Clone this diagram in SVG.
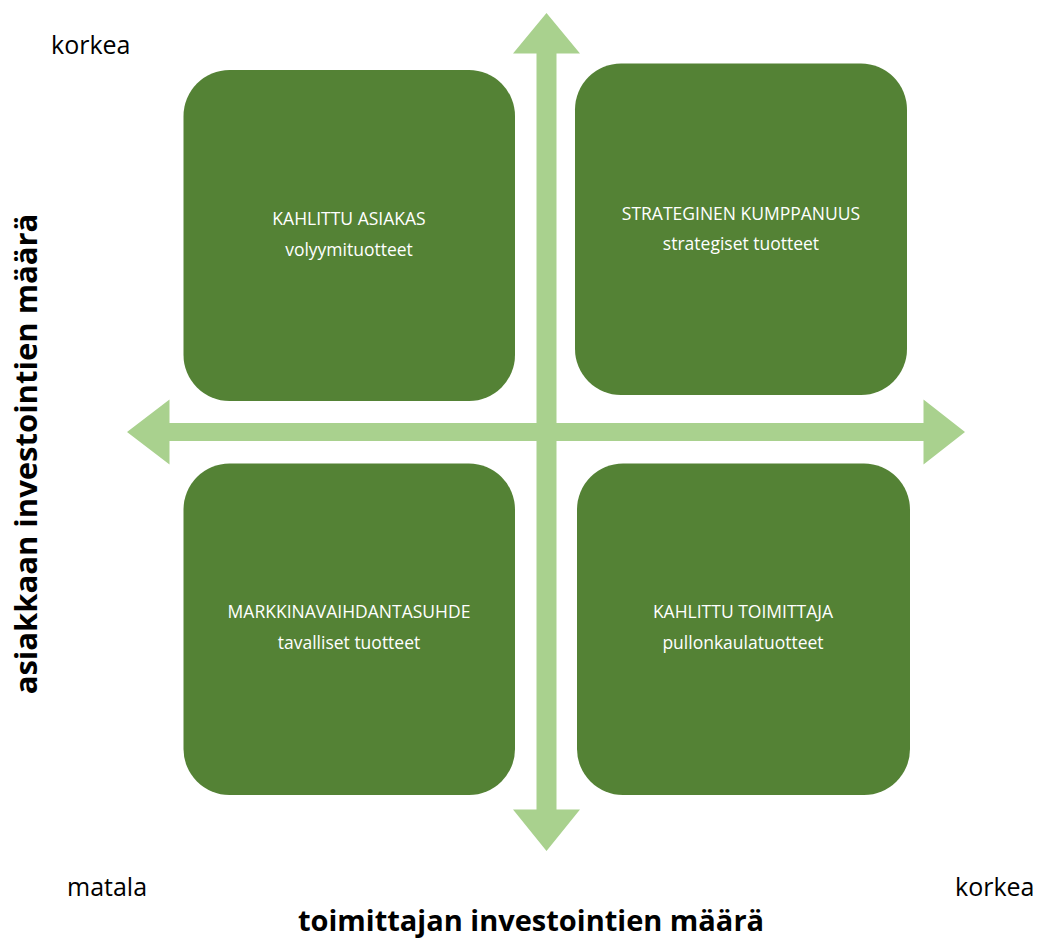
<svg xmlns="http://www.w3.org/2000/svg" width="1044" height="941" viewBox="0 0 1044 941">
  <style>
    .box { fill: #548235; }
    .axis { fill: #a9d18e; }
    .title, .sub { font-family: "Open Sans", "Liberation Sans", sans-serif; font-size: 17.5px; fill: #ffffff; text-anchor: middle; }
    .tick { font-family: "Open Sans", "Liberation Sans", sans-serif; font-size: 25px; fill: #000000; }
    .axislabel { font-family: "Open Sans", "Liberation Sans", sans-serif; font-weight: bold; fill: #000000; text-anchor: middle; }
  </style>
  <rect width="1044" height="941" fill="#ffffff"/>

  <!-- crossing double-headed axes -->
  <g id="connectors">
    <polygon class="axis" points="546.5,13 580,53.5 556.5,53.5 556.5,809.5 580,809.5 546.5,851 513,809.5 536.5,809.5 536.5,53.5 513,53.5"/>
    <polygon class="axis" points="127,432 169.5,399.5 169.5,423 923.5,423 923.5,399.5 965,432 923.5,464.5 923.5,441 169.5,441 169.5,464.5"/>
  </g>

  <g id="kahlittu-asiakas">
    <rect class="box" x="183.5" y="70" width="331.5" height="331" rx="46"/>
    <text class="title" x="349" y="225">KAHLITTU ASIAKAS</text>
    <text class="sub" x="349" y="256">volyymituotteet</text>
  </g>

  <g id="strateginen-kumppanuus">
    <rect class="box" x="575" y="63.5" width="332" height="331.5" rx="46"/>
    <text class="title" x="741" y="220">STRATEGINEN KUMPPANUUS</text>
    <text class="sub" x="741" y="250">strategiset tuotteet</text>
  </g>

  <g id="markkinavaihdantasuhde">
    <rect class="box" x="183.5" y="463.5" width="331.5" height="331.5" rx="46"/>
    <text class="title" x="349" y="618">MARKKINAVAIHDANTASUHDE</text>
    <text class="sub" x="349" y="649">tavalliset tuotteet</text>
  </g>

  <g id="kahlittu-toimittaja">
    <rect class="box" x="577" y="463.5" width="333" height="331.5" rx="46"/>
    <text class="title" x="743" y="618">KAHLITTU TOIMITTAJA</text>
    <text class="sub" x="743" y="649">pullonkaulatuotteet</text>
  </g>

  <!-- scale ends -->
  <text class="tick" x="51" y="54">korkea</text>
  <text class="tick" x="67" y="896">matala</text>
  <text class="tick" x="955" y="896">korkea</text>

  <!-- axis titles -->
  <text class="axislabel" x="531" y="931" font-size="29">toimittajan investointien määrä</text>
  <text class="axislabel" font-size="31" transform="translate(37,454) rotate(-90)">asiakkaan investointien määrä</text>
</svg>
